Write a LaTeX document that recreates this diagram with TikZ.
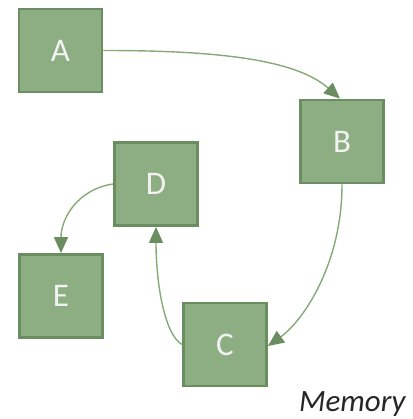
\documentclass[tikz,border=0pt]{standalone}
\usepackage{fontspec}
\setmainfont{Carlito}
\usetikzlibrary{arrows.meta}
\definecolor{boxfill}{HTML}{8DAE82}
\definecolor{boxedge}{HTML}{6A8E5F}
\definecolor{linkline}{HTML}{84AA78}
\definecolor{tipfill}{HTML}{6A8E5F}
\tikzset{
  memblock/.style={draw=boxedge, line width=2.8pt, fill=boxfill, minimum size=83pt,
    inner sep=0pt, text=white!95!black, font=\fontsize{33}{33}\selectfont},
  link/.style={draw=linkline, line width=1.4pt,
    -{Triangle[length=16pt,width=14pt,color=tipfill]}}
}
\begin{document}
\begin{tikzpicture}[x=1pt,y=-1pt]
  \useasboundingbox (0,0) rectangle (412,419);
  \node[memblock] (A) at (60.5,50.5) {A};
  \node[memblock] (B) at (342,141.5) {B};
  \node[memblock] (D) at (156,184) {D};
  \node[memblock] (E) at (61,296) {E};
  \node[memblock] (C) at (225,344.5) {C};
  \draw[link] (A.east) .. controls +(110,0) and +(-45,-40) .. ([xshift=-2pt]B.north);
  \draw[link] (B.south) .. controls +(0,80) and +(35,-25) .. ([yshift=-1.5pt]C.east);
  \draw[link] (C.west) .. controls +(-18,-10) and +(0,55) .. (D.south);
  \draw[link] (D.west) .. controls +(-35,5) and +(0,-35) .. (E.north);
  \node[anchor=base east, font=\fontsize{31}{31}\selectfont\itshape, text=black!85] (mem) at (409,411) {Memory};
\end{tikzpicture}
\end{document}
